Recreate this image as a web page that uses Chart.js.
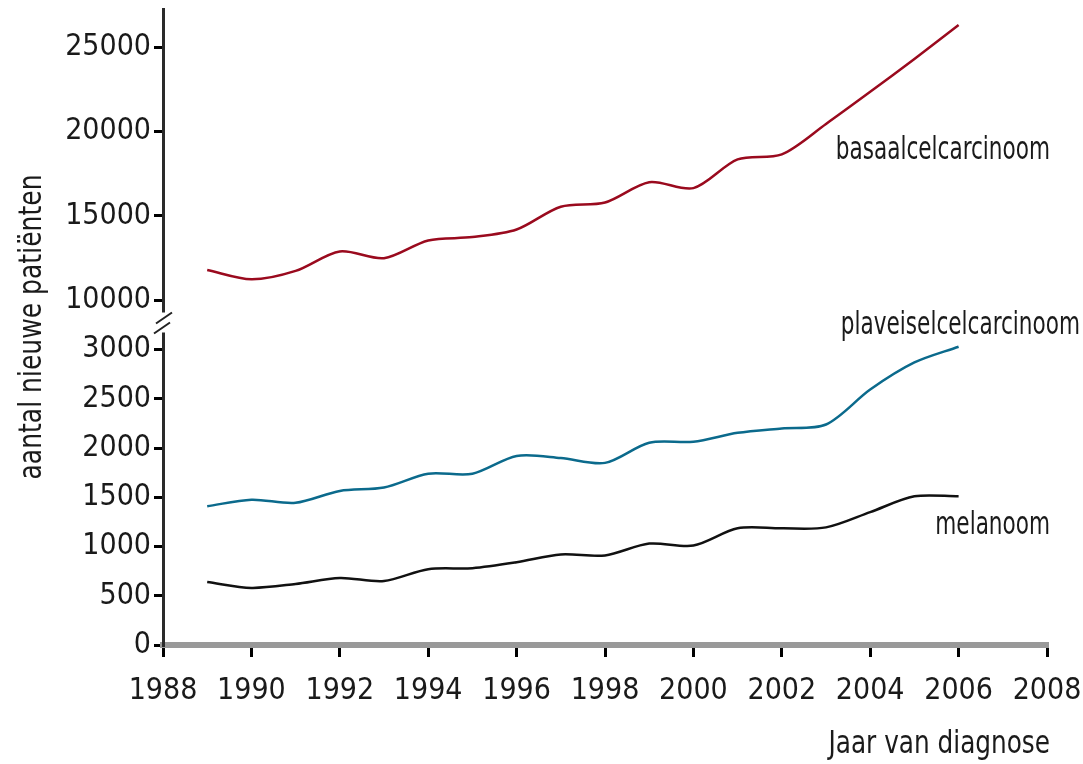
<!DOCTYPE html>
<html>
<head>
<meta charset="utf-8">
<script src="https://cdn.jsdelivr.net/npm/chart.js@4/dist/chart.umd.min.js"></script>
<style>
  body { margin: 0; background: #fff; }
</style>
</head>
<body>
<canvas id="chart" width="1083" height="764"></canvas>
<script>
// Nieuwe patiënten met huidkanker per jaar van diagnose
const years = [1989, 1990, 1991, 1992, 1993, 1994, 1995, 1996, 1997, 1998, 1999, 2000, 2001, 2002, 2003, 2004, 2005, 2006];
const basaal = [11800, 11250, 11750, 12900, 12500, 13550, 13750, 14200, 15550, 15800, 17000, 16650, 18350, 18650, 20450, 22350, 24300, 26300];
const plaveisel = [1410, 1475, 1445, 1565, 1600, 1740, 1740, 1920, 1900, 1850, 2055, 2065, 2155, 2200, 2240, 2595, 2870, 3030];
const melanoom = [640, 580, 620, 680, 650, 770, 780, 840, 920, 910, 1030, 1010, 1185, 1185, 1195, 1350, 1510, 1510];

const xTicks = [1988, 1990, 1992, 1994, 1996, 1998, 2000, 2002, 2004, 2006, 2008];
const lowTicks = [0, 500, 1000, 1500, 2000, 2500, 3000];
const highTicks = [10000, 15000, 20000, 25000];

const FONT = "'DejaVu Sans Condensed', 'Liberation Sans Narrow', sans-serif";
const TEXT = '#1a1a1a';

function pairs(values) {
    return years.map((y, i) => ({ x: y, y: values[i] }));
}

// narrow text: the original uses a condensed face
function squeezed(ctx, text, x, y, sx, align) {
    ctx.save();
    ctx.translate(x, y);
    ctx.scale(sx, 1);
    ctx.textAlign = align;
    ctx.fillText(text, 0, 0);
    ctx.restore();
}

const extras = {
    id: 'extras',
    afterDraw(chart) {
        const ctx = chart.ctx;
        const xs = chart.scales.x;
        const lo = chart.scales.y;
        const hi = chart.scales.y2;
        const ax = chart.chartArea.left;
        const cut = lo.top;

        ctx.save();
        // axis break
        ctx.fillStyle = '#fff';
        ctx.fillRect(ax - 6, cut - 10, 12, 20);
        ctx.strokeStyle = '#222';
        ctx.lineWidth = 2;
        ctx.beginPath();
        ctx.moveTo(ax - 7, cut + 1); ctx.lineTo(ax + 9, cut - 10);
        ctx.moveTo(ax - 9, cut + 11); ctx.lineTo(ax + 7, cut);
        ctx.stroke();

        // series labels
        ctx.fillStyle = TEXT;
        ctx.font = '32px ' + FONT;
        ctx.textBaseline = 'middle';
        const right = xs.getPixelForValue(2008);
        squeezed(ctx, 'basaalcelcarcinoom', right + 3, hi.getPixelForValue(18850), 0.75, 'right');
        squeezed(ctx, 'plaveiselcelcarcinoom', right + 33, lo.getPixelForValue(3240), 0.75, 'right');
        squeezed(ctx, 'melanoom', right + 3, lo.getPixelForValue(1210), 0.75, 'right');

        // x axis title
        ctx.textBaseline = 'alphabetic';
        squeezed(ctx, 'Jaar van diagnose', right + 3, 753, 0.86, 'right');

        // y axis title
        ctx.textBaseline = 'middle';
        ctx.translate(33, 327);
        ctx.rotate(-Math.PI / 2);
        squeezed(ctx, 'aantal nieuwe patiënten', 0, 0, 0.87, 'center');
        ctx.restore();
    }
};

const yCommon = {
    type: 'linear',
    position: 'left',
    stack: 'v',
    border: { color: '#2a2a2a', width: 3 },
    grid: { drawOnChartArea: false, drawTicks: true, tickLength: 9, color: '#000', lineWidth: 3 },
    ticks: { color: TEXT, font: { family: FONT, size: 30 }, padding: 3, autoSkip: false, callback: v => String(v) },
    afterFit: s => { s.width = 163; s.paddingTop = 0; s.paddingBottom = 0; }
};

new Chart(document.getElementById('chart'), {
    type: 'line',
    data: {
        datasets: [
            { label: 'basaalcelcarcinoom', data: pairs(basaal), yAxisID: 'y2', borderColor: '#9a0a1e' },
            { label: 'plaveiselcelcarcinoom', data: pairs(plaveisel), yAxisID: 'y', borderColor: '#0b6a8c' },
            { label: 'melanoom', data: pairs(melanoom), yAxisID: 'y', borderColor: '#111111' }
        ]
    },
    options: {
        responsive: false,
        animation: false,
        devicePixelRatio: 1,
        layout: { padding: { top: 9, right: 36, left: 0, bottom: 0 } },
        elements: {
            line: { borderWidth: 2.5, tension: 0.3, fill: false },
            point: { radius: 0 }
        },
        plugins: {
            legend: { display: false },
            tooltip: { enabled: false }
        },
        scales: {
            x: {
                type: 'linear',
                min: 1988,
                max: 2008,
                border: { color: '#999', width: 6 },
                grid: { drawOnChartArea: false, drawTicks: true, tickLength: 12, color: '#000', lineWidth: 3 },
                ticks: { color: TEXT, font: { family: FONT, size: 30 }, padding: 16, maxRotation: 0, autoSkip: false, callback: v => String(v) },
                afterBuildTicks: s => { s.ticks = xTicks.map(v => ({ value: v })); },
                afterFit: s => { s.height = 119; s.paddingLeft = 0; s.paddingRight = 0; }
            },
            y: Object.assign({}, yCommon, {
                min: 0,
                max: 3276,
                stackWeight: 322,
                afterBuildTicks: s => { s.ticks = lowTicks.map(v => ({ value: v })); }
            }),
            y2: Object.assign({}, yCommon, {
                min: 8696,
                max: 27253,
                stackWeight: 313,
                afterBuildTicks: s => { s.ticks = highTicks.map(v => ({ value: v })); }
            })
        }
    },
    plugins: [extras]
});
</script>
</body>
</html>
